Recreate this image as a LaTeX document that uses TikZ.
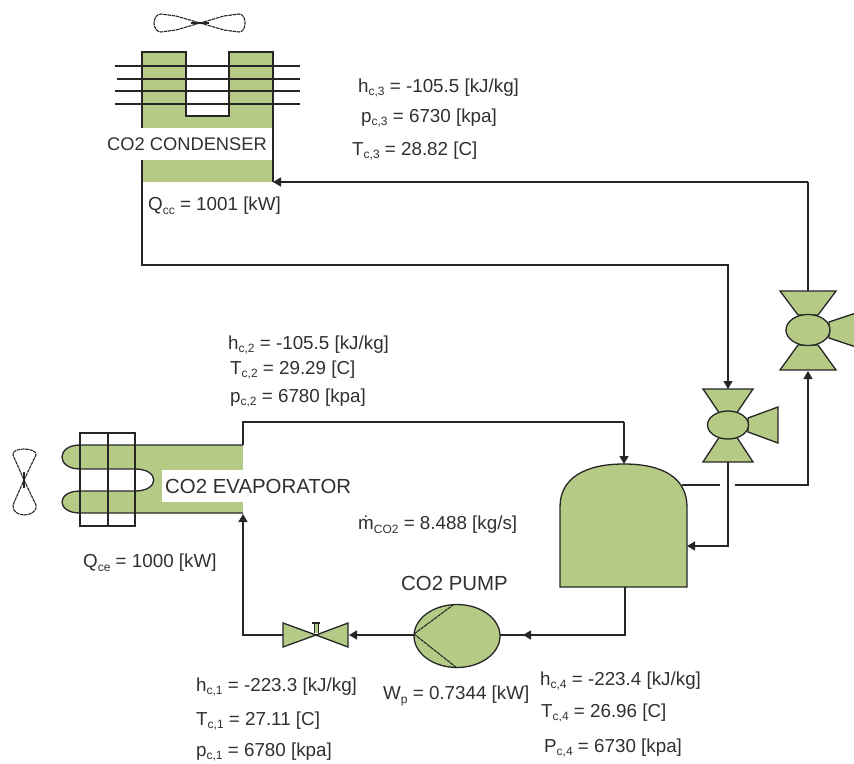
\documentclass[tikz,border=0pt]{standalone}
\usepackage{fontspec}
\setmainfont{Liberation Sans}
\usetikzlibrary{arrows.meta,shapes.geometric}
\definecolor{eqgreen}{HTML}{B4CA85}
\definecolor{ink}{HTML}{262626}
\definecolor{lbl}{HTML}{303030}
\tikzset{
  x=1pt,y=-1pt,
  pipe/.style={draw=ink,line width=1.3pt,line join=miter},
  flow/.style={pipe,-{Triangle[length=8pt,width=9pt]}},
  part/.style={draw=ink,line width=1.3pt,fill=eqgreen,line join=miter},
  jag/.style={draw=ink,line width=1.1pt,dash pattern=on 3.5pt off 0.7pt},
  lab/.style={anchor=west,inner sep=0pt,text=lbl,yshift=-2pt,font=\fontsize{18.8}{20}\selectfont},
  title/.style={anchor=west,inner sep=0pt,text=lbl,font=\fontsize{20.4}{22}\selectfont},
}
\newcommand{\sub}[1]{\raisebox{-3.5pt}{\fontsize{12}{12}\selectfont #1}}
\begin{document}
\begin{tikzpicture}
\useasboundingbox (0,0) rectangle (854,763);
\fill[white] (0,0) rectangle (854,763);
% ---------- condenser
\fill[eqgreen] (142,52) -- (186,52) -- (186,116) -- (229,116) -- (229,52) -- (273,52) -- (273,182) -- (142,182) -- cycle;
\fill[white] (142,128) rectangle (272,160);
\draw[pipe] (142,128) -- (142,52) -- (186,52) -- (186,116) -- (229,116) -- (229,52) -- (273,52) -- (273,182);
\foreach \ya/\xa in {66/115,79/117,91/115,104/115}
  \draw[draw=ink,line width=1.2pt] (\xa,\ya) -- (300,\ya);
\coordinate (condIn) at (273,182);
\coordinate (condOut) at (142,160);
% condenser fan
\draw[jag] (200,23) -- (224,16) -- (239,14) .. controls (243,14) and (245,18) .. (245,23) .. controls (245,28) and (243,32) .. (239,32) -- (224,30) -- (200,23)
  -- (176,16) -- (161,14) .. controls (157,14) and (154,18) .. (154,23) .. controls (154,28) and (157,32) .. (161,32) -- (176,30) -- cycle;
\draw[draw=ink,line width=2pt] (191,23) -- (209,23);
% ---------- evaporator
\fill[eqgreen] (135,445) rectangle (243,513);
\fill[eqgreen] (80,445) rectangle (135,469);
\fill[eqgreen] (80,491) rectangle (135,513);
\fill[eqgreen] (80,491) .. controls (56,491) and (56,513) .. (80,513) -- cycle;
\fill[eqgreen] (80,469) .. controls (56,469) and (56,445) .. (80,445) -- cycle;
\fill[white] (135,469) .. controls (160,469) and (160,491) .. (135,491) -- cycle;
\fill[white] (162,470) rectangle (243,502);
\draw[pipe] (243,445) -- (80,445) .. controls (56,445) and (56,469) .. (80,469) -- (135,469) .. controls (160,469) and (160,491) .. (135,491) -- (80,491) .. controls (56,491) and (56,513) .. (80,513) -- (243,513);
\draw[pipe] (80,433) rectangle (135,526);
\draw[pipe] (108,433) -- (108,526);
\coordinate (evapOut) at (243,445);
\coordinate (evapIn) at (243,514);
% evaporator fan
\draw[jag] (24,480) -- (36,455) .. controls (37,451) and (30,449) .. (24,449) .. controls (18,449) and (12,451) .. (13,455) -- (24,480)
  -- (36,505) .. controls (38,511) and (30,515) .. (24,515) .. controls (18,515) and (12,511) .. (13,505) -- cycle;
\draw[draw=ink,line width=2pt] (24,472) -- (24,488);
% ---------- receiver tank
\path[part] (560,587) -- (560,507) .. controls (560,478) and (585,464) .. (624,464) .. controls (663,464) and (687,478) .. (687,507) -- (687,587) -- cycle;
\coordinate (tankTop) at (624,464);
\coordinate (tankSide) at (687,546);
\coordinate (tankShoulder) at (682,485);
\coordinate (tankBottom) at (625,587);
% ---------- lower compressor
\path[part] (703,389) -- (753,389) -- (736,414) -- (720,414) -- cycle;
\path[part] (703,462) -- (753,462) -- (736,436) -- (720,436) -- cycle;
\path[part] (748,418) -- (778,407) -- (778,443) -- (748,432) -- cycle;
\node[part,ellipse,minimum width=41pt,minimum height=28pt,inner sep=0pt] (compA) at (728,425) {};
\coordinate (compAtop) at (728,389);
\coordinate (compAbot) at (728,462);
% ---------- upper compressor
\path[part] (780,291) -- (836,291) -- (818,315) -- (798,315) -- cycle;
\path[part] (780,370) -- (836,370) -- (818,345) -- (798,345) -- cycle;
\path[part] (829,322) -- (862,311) -- (862,349) -- (829,338) -- cycle;
\node[part,ellipse,minimum width=44pt,minimum height=31pt,inner sep=0pt] (compB) at (808,330) {};
\coordinate (compBtop) at (808,291);
\coordinate (compBbot) at (808,371);
% ---------- pump
\node[part,ellipse,minimum width=86pt,minimum height=63pt,inner sep=0pt] (pump) at (457,636) {};
\draw[jag] (414,634) -- (453,605);
\draw[jag] (414,634) -- (457,668);
\coordinate (pumpIn) at (500,635);
\coordinate (pumpOut) at (414,635);
% ---------- expansion valve
\path[part] (283,623) -- (316,635) -- (283,647) -- cycle;
\path[part] (348,623) -- (316,635) -- (348,647) -- cycle;
\draw[draw=ink,line width=1pt,fill=eqgreen] (314,633) -- (314,623) -- (318,623) -- (318,633);
\draw[draw=ink,line width=1.2pt] (312,623) -- (320,623);
\coordinate (valveL) at (283,635);
\coordinate (valveR) at (349,635);
% ---------- connectors
\coordinate (b1) at (808,182);
\draw[pipe] (compBtop) -- (b1);
\draw[flow] (b1) -- (condIn);
\coordinate (c1) at (142,265);
\coordinate (c2) at (728,265);
\draw[flow] (condOut) -- (c1) -- (c2) -- (compAtop);
\coordinate (e1) at (243,422);
\coordinate (e2) at (624,422);
\draw[pipe] (evapOut) -- (e1) -- (e2);
\draw[flow] (e2) -- (tankTop);
\coordinate (s1) at (720,485);
\coordinate (s2) at (735,485);
\coordinate (s3) at (808,485);
\draw[pipe] (tankShoulder) -- (s1);
\draw[flow] (s2) -- (s3) -- (compBbot);
\coordinate (a1) at (728,546);
\draw[flow] (compAbot) -- (a1) -- (tankSide);
\coordinate (t1) at (625,635);
\draw[flow] (tankBottom) -- (t1) -- (523,635);
\draw[pipe] (526,635) -- (pumpIn);
\draw[flow] (pumpOut) -- (valveR);
\coordinate (v1) at (243,635);
\draw[flow] (valveL) -- (v1) -- (evapIn);
% ---------- labels
\node[title,font=\fontsize{18.3}{20}\selectfont] (tCond) at (107,144) {CO2 CONDENSER};
\node[title] (tEvap) at (165,486) {CO2 EVAPORATOR};
\node[title] (tPump) at (401,583) {CO2 PUMP};
\node[lab] (l1) at (358,86) {h\sub{c,3} = -105.5 [kJ/kg]};
\node[lab] (l2) at (361,116) {p\sub{c,3} = 6730 [kpa]};
\node[lab] (l3) at (352,149) {T\sub{c,3} = 28.82 [C]};
\node[lab] (l4) at (148,204) {Q\sub{cc} = 1001 [kW]};
\node[lab] (l5) at (228,343) {h\sub{c,2} = -105.5 [kJ/kg]};
\node[lab] (l6) at (230,368) {T\sub{c,2} = 29.29 [C]};
\node[lab] (l7) at (230,396) {p\sub{c,2} = 6780 [kpa]};
\node[lab] (l8) at (358,523) {\.{m}\sub{CO2} = 8.488 [kg/s]};
\node[lab] (l9) at (83,561) {Q\sub{ce} = 1000 [kW]};
\node[lab] (l10) at (196,685) {h\sub{c,1} = -223.3 [kJ/kg]};
\node[lab] (l11) at (196,719) {T\sub{c,1} = 27.11 [C]};
\node[lab] (l12) at (196,750) {p\sub{c,1} = 6780 [kpa]};
\node[lab] (l13) at (383,694) {W\sub{p} = 0.7344 [kW]};
\node[lab] (l14) at (540,679) {h\sub{c,4} = -223.4 [kJ/kg]};
\node[lab] (l15) at (541,711) {T\sub{c,4} = 26.96 [C]};
\node[lab] (l16) at (544,746) {P\sub{c,4} = 6730 [kpa]};
\end{tikzpicture}
\end{document}
